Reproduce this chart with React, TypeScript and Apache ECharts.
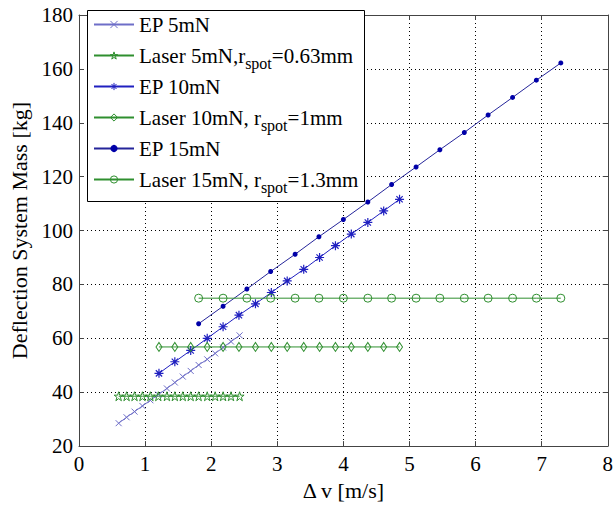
import React, { useEffect, useRef } from "react";
import * as echarts from "echarts";

const FONT = "Liberation Serif";

// X axis / Y axis ticks
const xMin = 0;
const xMax = 8;
const xStep = 1;
const yMin = 20;
const yMax = 180;
const yStep = 20;

// EP 5mN
const ep5X = [0.6, 0.72, 0.84, 0.96, 1.08, 1.2, 1.33, 1.45, 1.57, 1.69, 1.81, 1.94, 2.06, 2.18, 2.3, 2.43];
const ep5Y = [28.5, 30.7, 32.8, 34.9, 37.0, 39.1, 41.4, 43.6, 45.8, 47.9, 50.1, 52.2, 54.4, 56.6, 58.8, 61.1];

// Laser 5mN, r_spot = 0.63mm
const laser5X = [0.6, 0.72, 0.84, 0.96, 1.08, 1.2, 1.33, 1.45, 1.57, 1.69, 1.81, 1.94, 2.06, 2.18, 2.3, 2.43];
const laser5Y = [38.5, 38.5, 38.5, 38.5, 38.5, 38.5, 38.5, 38.5, 38.5, 38.5, 38.5, 38.5, 38.5, 38.5, 38.5, 38.5];

// EP 10mN
const ep10X = [1.21, 1.45, 1.69, 1.94, 2.18, 2.42, 2.67, 2.91, 3.15, 3.4, 3.64, 3.88, 4.12, 4.37, 4.61, 4.85];
const ep10Y = [47.0, 51.3, 55.5, 60.0, 64.3, 68.6, 72.8, 77.0, 81.3, 85.6, 90.0, 94.4, 98.7, 103.0, 107.3, 111.6];

// Laser 10mN, r_spot = 1mm
const laser10X = [1.21, 1.45, 1.69, 1.94, 2.18, 2.42, 2.67, 2.91, 3.15, 3.4, 3.64, 3.88, 4.12, 4.37, 4.61, 4.85];
const laser10Y = [56.8, 56.8, 56.8, 56.8, 56.8, 56.8, 56.8, 56.8, 56.8, 56.8, 56.8, 56.8, 56.8, 56.8, 56.8, 56.8];

// EP 15mN
const ep15X = [1.81, 2.18, 2.54, 2.9, 3.27, 3.63, 4.0, 4.37, 4.73, 5.1, 5.46, 5.83, 6.19, 6.56, 6.92, 7.29];
const ep15Y = [65.4, 71.9, 78.3, 84.8, 91.2, 97.7, 104.1, 110.6, 117.1, 123.6, 130.0, 136.4, 142.9, 149.4, 155.8, 162.2];

// Laser 15mN, r_spot = 1.3mm
const laser15X = [1.81, 2.18, 2.54, 2.9, 3.27, 3.63, 4.0, 4.37, 4.73, 5.1, 5.46, 5.83, 6.19, 6.56, 6.92, 7.29];
const laser15Y = [74.9, 74.9, 74.9, 74.9, 74.9, 74.9, 74.9, 74.9, 74.9, 74.9, 74.9, 74.9, 74.9, 74.9, 74.9, 74.9];

const seriesNames = [
  "EP 5mN",
  "Laser 5mN,rspot=0.63mm",
  "EP 10mN",
  "Laser 10mN, rspot=1mm",
  "EP 15mN",
  "Laser 15mN, rspot=1.3mm",
];

const legendRich: Record<string, string> = {
  "EP 5mN": "{m|EP 5mN}",
  "Laser 5mN,rspot=0.63mm": "{m|Laser 5mN,r}{s|spot}{m|=0.63mm}",
  "EP 10mN": "{m|EP 10mN}",
  "Laser 10mN, rspot=1mm": "{m|Laser 10mN, r}{s|spot}{m|=1mm}",
  "EP 15mN": "{m|EP 15mN}",
  "Laser 15mN, rspot=1.3mm": "{m|Laser 15mN, r}{s|spot}{m|=1.3mm}",
};

const SYM_CROSS = "path://M0,0L10,10M10,0L0,10";
const SYM_STAR =
  "path://M5,0L6.18,3.62L10,3.62L6.91,5.86L8.09,9.51L5,7.27L1.91,9.51L3.09,5.86L0,3.62L3.82,3.62Z";
const SYM_AST = "path://M5,0L5,10M0,5L10,5M1.5,1.5L8.5,8.5M8.5,1.5L1.5,8.5";
const SYM_DIAMOND = "path://M5,0L10,5L5,10L0,5Z";
const SYM_CIRCLE = "path://M10,5A5,5,0,1,1,0,5A5,5,0,1,1,10,5Z";

const C_EP5 = "#6e6ec8";
const C_EP10 = "#2020c0";
const C_EP15 = "#25259a";
const C_EP15_DOT = "#0000a8";
const C_GREEN = "#2f8f2f";

const seriesColors = [C_EP5, C_GREEN, C_EP10, C_GREEN, C_EP15_DOT, C_GREEN];
const seriesHollow = [true, true, true, true, false, true];

function zip(xs: number[], ys: number[]) {
  return xs.map((x, i) => [x, ys[i]]);
}

export default function App() {
  const ref = useRef<HTMLDivElement>(null);

  useEffect(() => {
    if (!ref.current) return;
    const chart = echarts.init(ref.current, null, { renderer: "svg" });

    const axisLineStyle = { color: "#444", width: 1 };
    const splitLineStyle = { color: "#000", type: [1, 3] as any, width: 1 };
    const labelStyle = { fontSize: 21, fontFamily: FONT, color: "#000" };
    const nameStyle = { fontSize: 22, fontFamily: FONT, color: "#000" };

    const option: any = {
      animation: false,
      backgroundColor: "#fff",
      textStyle: { fontFamily: FONT },
      grid: { left: 79, right: 4, top: 15, bottom: 51, containLabel: false },
      xAxis: [
        {
          type: "value",
          min: xMin,
          max: xMax,
          interval: xStep,
          position: "bottom",
          axisLine: { show: true, onZero: false, lineStyle: axisLineStyle },
          axisTick: { show: true, inside: true, length: 5, lineStyle: axisLineStyle },
          axisLabel: { ...labelStyle, margin: 7 },
          splitLine: { show: true, lineStyle: splitLineStyle },
          name: "Δ v [m/s]",
          nameLocation: "middle",
          nameGap: 31,
          nameTextStyle: nameStyle,
        },
        {
          type: "value",
          min: xMin,
          max: xMax,
          interval: xStep,
          position: "top",
          axisLine: { show: true, onZero: false, lineStyle: axisLineStyle },
          axisTick: { show: true, inside: true, length: 5, lineStyle: axisLineStyle },
          axisLabel: { show: false },
          splitLine: { show: false },
        },
      ],
      yAxis: [
        {
          type: "value",
          min: yMin,
          max: yMax,
          interval: yStep,
          position: "left",
          axisLine: { show: true, onZero: false, lineStyle: axisLineStyle },
          axisTick: { show: true, inside: true, length: 5, lineStyle: axisLineStyle },
          axisLabel: { ...labelStyle, margin: 6 },
          splitLine: { show: true, lineStyle: splitLineStyle },
          name: "Deflection System Mass [kg]",
          nameLocation: "middle",
          nameGap: 44,
          nameTextStyle: nameStyle,
        },
        {
          type: "value",
          min: yMin,
          max: yMax,
          interval: yStep,
          position: "right",
          axisLine: { show: true, onZero: false, lineStyle: axisLineStyle },
          axisTick: { show: true, inside: true, length: 5, lineStyle: axisLineStyle },
          axisLabel: { show: false },
          splitLine: { show: false },
        },
      ],
      legend: {
        orient: "vertical",
        left: 93,
        top: 14,
        padding: 0,
        itemGap: 4.5,
        itemWidth: 40,
        itemHeight: 9,
        z: 10,
        selectedMode: false,
        data: seriesNames.map((n, i) => ({
          name: n,
          itemStyle: seriesHollow[i]
            ? { color: "transparent", borderColor: seriesColors[i], borderWidth: 1 }
            : { color: seriesColors[i], borderWidth: 0 },
        })),
        formatter: (n: string) => legendRich[n] || n,
        textStyle: {
          fontSize: 21,
          fontFamily: FONT,
          color: "#000",
          rich: {
            m: { fontSize: 21, fontFamily: FONT, color: "#000", lineHeight: 30, verticalAlign: "middle" },
            s: {
              fontSize: 16,
              fontFamily: FONT,
              color: "#000",
              lineHeight: 14,
              padding: [16, 0, 0, 0],
              verticalAlign: "middle",
            },
          },
        },
      },
      graphic: [
        {
          type: "rect",
          z: 8,
          shape: { x: 87.5, y: 10.5, width: 277, height: 191 },
          style: { fill: "#fff", stroke: "#000", lineWidth: 1 },
          silent: true,
        },
      ],
      series: [
        {
          name: seriesNames[0],
          type: "line",
          data: zip(ep5X, ep5Y),
          symbol: SYM_CROSS,
          symbolSize: 6,
          lineStyle: { color: C_EP5, width: 1 },
          itemStyle: { color: "transparent", borderColor: C_EP5, borderWidth: 1 },
        },
        {
          name: seriesNames[1],
          type: "line",
          data: zip(laser5X, laser5Y),
          symbol: SYM_STAR,
          symbolSize: 9,
          lineStyle: { color: C_GREEN, width: 1 },
          itemStyle: { color: "transparent", borderColor: C_GREEN, borderWidth: 1 },
        },
        {
          name: seriesNames[2],
          type: "line",
          data: zip(ep10X, ep10Y),
          symbol: SYM_AST,
          symbolSize: 9,
          lineStyle: { color: C_EP10, width: 1 },
          itemStyle: { color: "transparent", borderColor: C_EP10, borderWidth: 1.2 },
        },
        {
          name: seriesNames[3],
          type: "line",
          data: zip(laser10X, laser10Y),
          symbol: SYM_DIAMOND,
          symbolSize: [6, 9],
          lineStyle: { color: C_GREEN, width: 1 },
          itemStyle: { color: "transparent", borderColor: C_GREEN, borderWidth: 1 },
        },
        {
          name: seriesNames[4],
          type: "line",
          data: zip(ep15X, ep15Y),
          symbol: "circle",
          symbolSize: 5,
          lineStyle: { color: C_EP15, width: 1 },
          itemStyle: { color: C_EP15_DOT, borderWidth: 0 },
        },
        {
          name: seriesNames[5],
          type: "line",
          data: zip(laser15X, laser15Y),
          symbol: SYM_CIRCLE,
          symbolSize: 8,
          lineStyle: { color: C_GREEN, width: 1 },
          itemStyle: { color: "transparent", borderColor: C_GREEN, borderWidth: 1 },
        },
      ],
    };

    chart.setOption(option);
    return () => {
      chart.dispose();
    };
  }, []);

  return (
    <div
      ref={ref}
      style={{ position: "absolute", left: 0, top: 0, width: 616, height: 506, background: "#fff" }}
    />
  );
}
